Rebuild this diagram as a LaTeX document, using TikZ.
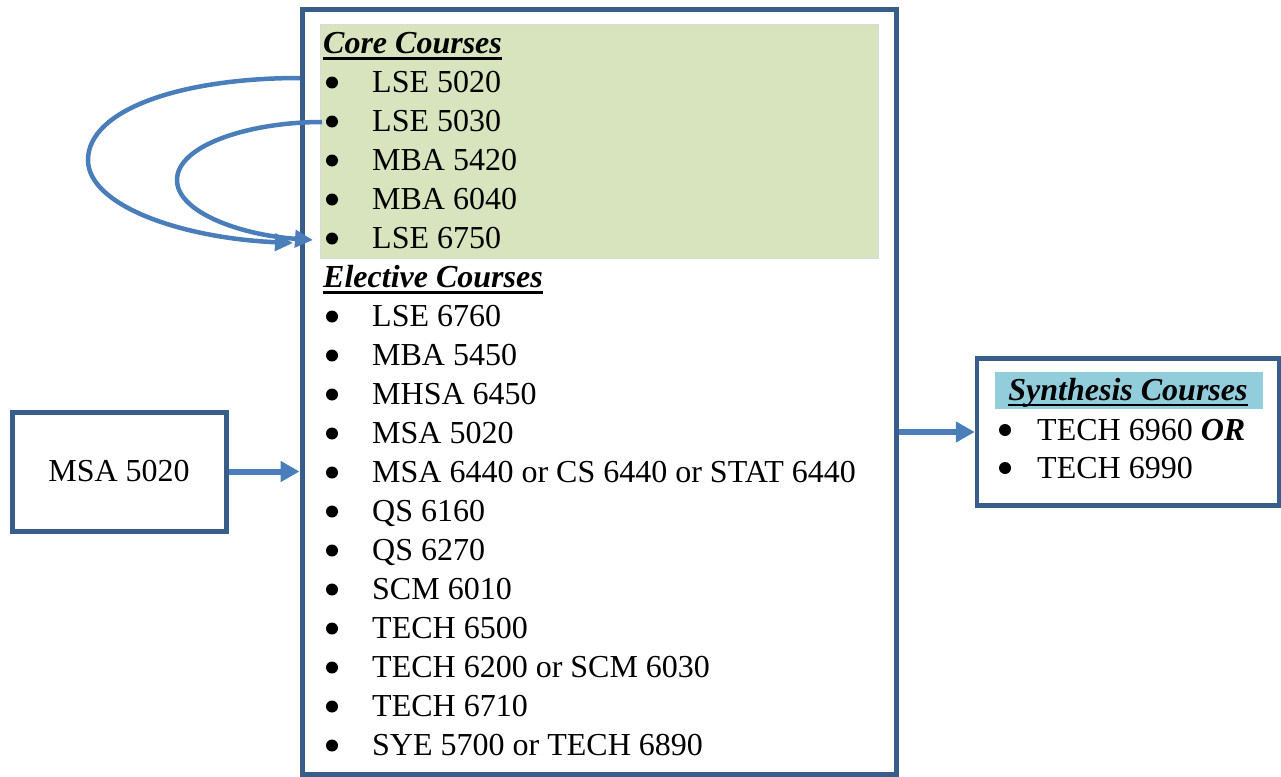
\documentclass[tikz,border=0pt]{standalone}
\usepackage{fontspec}
\setmainfont{Liberation Serif}
\usetikzlibrary{arrows.meta}
\definecolor{frameblue}{HTML}{385D8A}
\definecolor{arrowblue}{HTML}{4A7EBB}
\definecolor{coregreen}{HTML}{D7E4BD}
\definecolor{synthcyan}{HTML}{92CDDC}
\begin{document}
\begin{tikzpicture}[x=1pt,y=-1pt,
  font=\fontsize{32}{39}\selectfont,
  frame/.style={draw=frameblue, line width=5pt, fill=white, inner sep=0pt},
  item/.style={anchor=base west, inner sep=0pt},
  head/.style={item, font=\fontsize{32}{39}\selectfont\bfseries\itshape},
  uline/.style={line width=2.5pt},
  link/.style={draw=arrowblue, line width=6pt, -{Triangle[length=19pt,width=20pt]}},
  loop/.style={draw=arrowblue, line width=4.5pt, -{Triangle[length=18pt,width=17pt]}}]
\useasboundingbox (0,0) rectangle (1281,776);

% main course box
\node[frame, minimum width=594pt, minimum height=764pt] (main) at (599,392) {};
\fill[coregreen, draw=black!15, line width=0.8pt] (320,24) rectangle (878,258);

% core courses
\node[head] (corehead) at (323,53.5) {Core Courses};
\draw[uline] ([yshift=-5pt]corehead.base west) -- ([yshift=-5pt]corehead.base east);
\foreach \t [count=\i] in {LSE 5020, LSE 5030, MBA 5420, MBA 6040, LSE 6750} {
  \node[item] (core\i) at (372,{53.5+39*\i}) {\t};
  \fill (332,{43.5+39*\i}) circle[radius=6pt];
}

% elective courses
\node[head] (elehead) at (323,287.5) {Elective Courses};
\draw[uline] ([yshift=-5pt]elehead.base west) -- ([yshift=-5pt]elehead.base east);
\foreach \t [count=\i] in {LSE 6760, MBA 5450, MHSA 6450, MSA 5020,
    MSA 6440 or CS 6440 or STAT 6440, QS 6160, QS 6270, SCM 6010,
    TECH 6500, TECH 6200 or SCM 6030, TECH 6710, SYE 5700 or TECH 6890} {
  \node[item] (ele\i) at (372,{287.5+39*\i}) {\t};
  \fill (332,{277.5+39*\i}) circle[radius=6pt];
}

% prerequisite box
\node[frame, minimum width=214pt, minimum height=119pt] (msa) at (119,471.5) {MSA 5020};

% synthesis box
\node[frame, line width=4.5pt, minimum width=302pt, minimum height=147pt] (synth) at (1128,432) {};
\fill[synthcyan] (995,372) rectangle (1263,409);
\node[head, anchor=base] (synthhead) at (1128,400) {Synthesis Courses};
\draw[uline] ([yshift=-5pt]synthhead.base west) -- ([yshift=-5pt]synthhead.base east);
\node[item] (syn1) at (1037,440) {TECH 6960 \textbf{\textit{OR}}};
\node[item] (syn2) at (1037,478) {TECH 6990};
\fill (1005,430) circle[radius=6pt];
\fill (1005,468) circle[radius=6pt];

% connectors
\draw[link] (msa.east) -- (main.west |- msa.east);
\draw[link] (main.east |- synth.west) -- (synth.west);

\coordinate (outerstart) at (300,78);
\coordinate (outerend) at (293,243);
\coordinate (innerstart) at (322,122);
\coordinate (innerend) at (313,240);
\draw[loop] (outerstart) .. controls (180,78) and (88,110) .. (88,160)
  .. controls (88,205) and (180,238) .. (outerend);
\draw[loop] (innerstart) .. controls (250,122) and (177,145) .. (177,180)
  .. controls (177,212) and (240,235) .. (innerend);
\end{tikzpicture}
\end{document}
